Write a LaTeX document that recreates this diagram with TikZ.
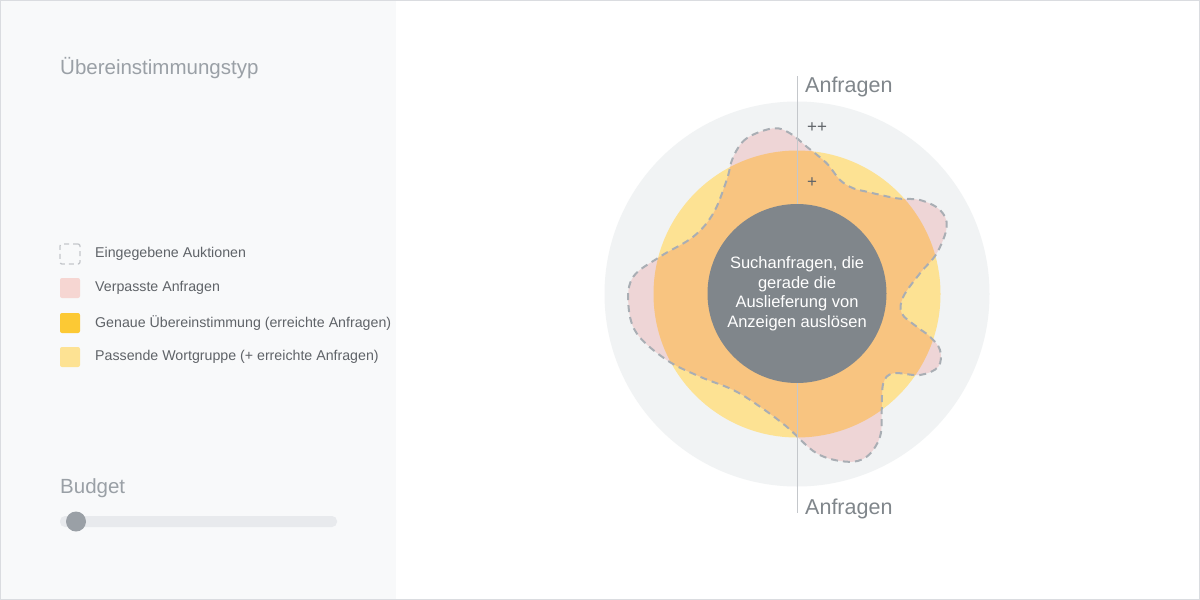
\documentclass[tikz,border=0pt]{standalone}
\usepackage{fontspec}
\setmainfont{Liberation Sans}
\definecolor{panel}{HTML}{F8F9FA}
\definecolor{ring}{HTML}{F1F3F4}
\definecolor{yel}{HTML}{FDE293}
\definecolor{yeldark}{HTML}{FCC934}
\definecolor{pinkc}{HTML}{EED5D6}
\definecolor{pinkleg}{HTML}{F6D6D2}
\definecolor{orng}{HTML}{F8C480}
\definecolor{core}{HTML}{80868B}
\definecolor{dashc}{HTML}{A9AEB4}
\definecolor{txt}{HTML}{5F6368}
\definecolor{ttl}{HTML}{9AA0A6}
\definecolor{axisc}{HTML}{C4C7CB}
\definecolor{framec}{HTML}{DADCE0}
\definecolor{trackc}{HTML}{E8EAED}
\newcommand{\blobshape}{plot[smooth cycle, tension=0.6] coordinates {
(773.3,128.3) (746.7,138.3) (733.3,156.7) (726.7,180) (713.3,213.3) (693.3,236.7)
(660,256.7) (633.3,276.7) (628.3,303.3) (636.7,333.3) (666.7,360) (700,376.7)
(733.3,390) (760,406.7) (786.7,426.7) (816.7,453.3) (846.7,461.7) (866.7,456.7)
(880,436.7) (881.7,410) (883.3,383.3) (893.3,373.3) (920,375) (938.3,366.7)
(940,350) (930,336.7) (916.7,326.7) (901.7,313.3) (903.3,296.7) (920,273.3)
(936.7,253.3) (946.7,226.7) (940,210) (920,200) (896.7,198.3) (866.7,191.7)
(853.3,188.3) (840,180) (826.7,163.3) (806.7,146.7) (790,133.3)}}
\begin{document}
\begin{tikzpicture}[x=1pt,y=-1pt,
  legtext/.style={anchor=west, text=txt, font=\fontsize{14.2}{17}\selectfont, inner sep=0pt},
  legbox/.style={minimum width=20pt, minimum height=20pt, inner sep=0pt, rounded corners=2pt},
  heading/.style={anchor=base west, text=ttl, font=\fontsize{20.5}{24}\selectfont, inner sep=0pt},
  axislabel/.style={anchor=base west, text=core, font=\fontsize{21.5}{25}\selectfont, inner sep=0pt},
  plusmark/.style={anchor=base west, text=txt, font=\fontsize{17}{19}\selectfont, inner sep=0pt}]
\useasboundingbox (0,0) rectangle (1200,600);
% background
\fill[white] (0,0) rectangle (1200,600);
\fill[panel] (0,0) rectangle (396,600);
\draw[framec, line width=1pt] (0.5,0.5) rectangle (1199.5,599.5);
% left panel
\node[heading] (title) at (60,74) {Übereinstimmungstyp};
\node[legbox, draw=axisc, line width=1.3pt, dash pattern=on 5pt off 4pt] (b1) at (70,254) {};
\node[legtext] (l1) at (95,254) {Eingegebene Auktionen};
\node[legbox, fill=pinkleg] (b2) at (70,288) {};
\node[legtext] (l2) at (95,288) {Verpasste Anfragen};
\node[legbox, fill=yeldark] (b3) at (70,323) {};
\node[legtext] (l3) at (95,323) {Genaue Übereinstimmung (erreichte Anfragen)};
\node[legbox, fill=yel] (b4) at (70,357) {};
\node[legtext] (l4) at (95,357) {Passende Wortgruppe (+ erreichte Anfragen)};
\node[heading] (budget) at (60,493) {Budget};
\fill[trackc, rounded corners=5pt] (60,516) rectangle (337,527);
\node[circle, fill=ttl, minimum size=20pt, inner sep=0pt] (knob) at (76,521.5) {};
% chart
\coordinate (c) at (797,294);
\fill[ring] (c) circle[radius=192.5];
\fill[yel] (c) circle[radius=143.5];
\fill[pinkc] \blobshape;
\begin{scope}
\clip (c) circle[radius=143.5];
\fill[orng] \blobshape;
\end{scope}
\draw[dashc, line width=2pt, dash pattern=on 7pt off 5pt] \blobshape;
\coordinate (axtop) at (797,76);
\coordinate (axbot) at (797,513);
\draw[axisc, line width=1pt] (axtop) -- (axbot);
\node[circle, fill=core, minimum size=179pt, inner sep=0pt, text=white, align=center,
  font=\fontsize{16.5}{19.5}\selectfont] (core) at (797,293.5)
  {Suchanfragen, die\\gerade die\\Auslieferung von\\Anzeigen auslösen};
\node[axislabel] (qtop) at (805,92.5) {Anfragen};
\node[axislabel] (qbot) at (805,514) {Anfragen};
\node[plusmark] (pp) at (807,132) {++};
\node[plusmark] (p) at (807,187) {+};
\end{tikzpicture}
\end{document}
